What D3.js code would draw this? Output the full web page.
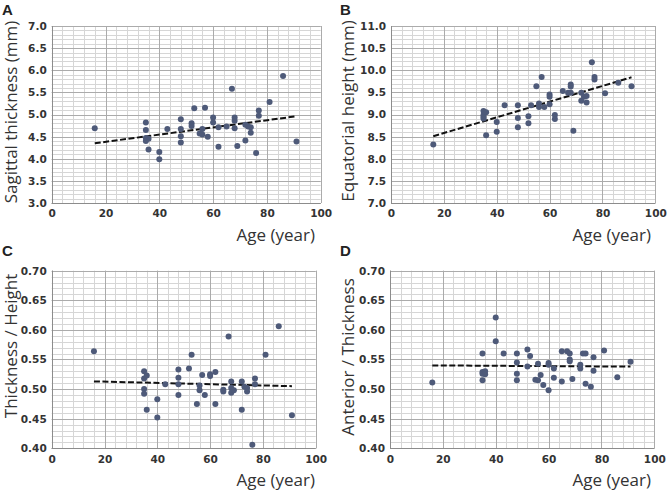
<!DOCTYPE html>
<html><head><meta charset="utf-8">
<script src="https://cdn.jsdelivr.net/npm/d3@7"></script>
<style>body{margin:0;background:#fff} svg{display:block}</style>
</head><body><svg id="c" width="672" height="493"></svg>
<script>
// ---- data ----
const agesA = [16,35,35,35,35,36,36,40,40,43,48,48,48,48,52,52,53,55,56,56,57,58,60,60,62,62,65,67,68,68,68,69,72,72,73,74,74,76,77,77,81,86,91];
const valuesA = [4.69,4.82,4.65,4.47,4.40,4.45,4.21,4.15,3.99,4.67,4.89,4.67,4.51,4.37,4.80,4.74,5.14,4.57,4.67,4.55,5.15,4.50,4.93,4.82,4.71,4.27,4.73,5.58,4.93,4.86,4.69,4.29,4.77,4.41,4.73,4.71,4.59,4.13,5.09,4.97,5.28,5.87,4.39];
const trendA = [[16,4.35],[91,4.96]];

const agesB = [16,35,35,35,35,36,36,40,40,43,48,48,48,52,52,53,55,56,56,57,58,60,60,60,62,62,65,67,68,68,68,69,72,72,73,74,74,76,77,77,81,86,91];
const valuesB = [8.32,9.08,8.99,8.91,8.95,9.05,8.53,8.83,8.61,9.21,9.21,8.92,8.71,8.96,8.80,9.21,9.64,9.25,9.17,9.85,9.17,9.45,9.40,9.23,8.99,8.90,9.53,9.49,9.68,9.63,9.49,8.63,9.49,9.31,9.40,9.42,9.27,10.18,9.85,9.79,9.48,9.72,9.64];
const trendB = [[16,8.51],[91,9.84]];

const agesC = [16,35,35,35,35,36,36,40,40,43,48,48,48,48,52,53,55,56,56,57,58,60,60,62,62,65,65,67,68,68,68,69,72,72,73,74,74,76,77,77,81,86,91];
const valuesC = [0.564,0.530,0.518,0.500,0.492,0.523,0.465,0.483,0.452,0.508,0.533,0.519,0.508,0.490,0.535,0.558,0.475,0.506,0.498,0.524,0.490,0.525,0.522,0.529,0.475,0.499,0.496,0.589,0.513,0.502,0.494,0.498,0.513,0.465,0.504,0.502,0.496,0.406,0.518,0.508,0.558,0.606,0.456];
const trendC = [[16,0.513],[91,0.505]];

const agesD = [16,35,35,35,35,36,36,40,40,43,48,48,48,48,52,52,53,55,56,56,57,58,60,60,60,62,62,65,65,67,68,68,68,69,72,72,73,74,74,76,77,77,81,86,91];
const valuesD = [0.511,0.560,0.529,0.526,0.515,0.530,0.525,0.621,0.581,0.560,0.560,0.545,0.526,0.515,0.567,0.538,0.556,0.516,0.543,0.515,0.524,0.507,0.544,0.541,0.498,0.535,0.519,0.564,0.513,0.564,0.560,0.550,0.547,0.517,0.541,0.535,0.560,0.560,0.509,0.504,0.554,0.531,0.565,0.520,0.546];
const trendD = [[16,0.540],[91,0.538]];

const xTicks = [0,20,40,60,80,100];
const yTicksA = ["3.0","3.5","4.0","4.5","5.0","5.5","6.0","6.5","7.0"];
const yTicksB = ["7.0","7.5","8.0","8.5","9.0","9.5","10.0","10.5","11.0"];
const yTicksCD = ["0.40","0.45","0.50","0.55","0.60","0.65","0.70"];

const panels = [
  {letter:"A", ages:agesA, vals:valuesA, trend:trendA, ylab:"Sagittal thickness (mm)", yt:yTicksA, ydom:[3,7], minor:0.1,
   box:[51.7,320.7,26,203], letterPos:[2,15], ytitle:[10,112], xtitle:[315,241]},
  {letter:"B", ages:agesB, vals:valuesB, trend:trendB, ylab:"Equatorial height (mm)", yt:yTicksB, ydom:[7,11], minor:0.1,
   box:[391,655.3,26,203], letterPos:[340,15], ytitle:[347,111], xtitle:[651,241]},
  {letter:"C", ages:agesC, vals:valuesC, trend:trendC, ylab:"Thickness / Height", yt:yTicksCD, ydom:[0.4,0.7], minor:0.01,
   box:[51.7,315.7,270.7,448.3], letterPos:[2,256], ytitle:[10.5,346], xtitle:[315,486]},
  {letter:"D", ages:agesD, vals:valuesD, trend:trendD, ylab:"Anterior / Thickness", yt:yTicksCD, ydom:[0.4,0.7], minor:0.01,
   box:[390,654.3,270.7,448.3], letterPos:[340,256], ytitle:[347,357], xtitle:[651,486]}
];

const svg = d3.select("#c");
const tickFont = "DejaVu Sans, Verdana, sans-serif";
const titleFont = "'Open Sans', 'Noto Sans', sans-serif";

panels.forEach(p => {
  const [x0,x1,y0,y1] = p.box;
  const x = d3.scaleLinear().domain([0,100]).range([x0,x1]);
  const y = d3.scaleLinear().domain(p.ydom).range([y1,y0]);
  const g = svg.append("g");

  // minor grid
  const nMinorY = Math.round((p.ydom[1]-p.ydom[0])/p.minor);
  const minorY = d3.range(nMinorY+1).map(i => p.ydom[0] + i*p.minor);
  const minorX = d3.range(0,101,4);
  g.append("g").selectAll("line").data(minorY).join("line")
    .attr("x1",x0).attr("x2",x1).attr("y1",d=>Math.round(y(d))+0.5).attr("y2",d=>Math.round(y(d))+0.5)
    .attr("stroke","#d6d6d6").attr("stroke-width",1);
  g.append("g").selectAll("line").data(minorX).join("line")
    .attr("y1",y0).attr("y2",y1).attr("x1",d=>Math.round(x(d))+0.5).attr("x2",d=>Math.round(x(d))+0.5)
    .attr("stroke","#d6d6d6").attr("stroke-width",1);
  // major grid
  const majorY = p.yt.map(Number);
  g.append("g").selectAll("line").data(majorY).join("line")
    .attr("x1",x0).attr("x2",x1).attr("y1",d=>Math.round(y(d))+0.5).attr("y2",d=>Math.round(y(d))+0.5)
    .attr("stroke","#ababab").attr("stroke-width",1);
  g.append("g").selectAll("line").data(xTicks).join("line")
    .attr("y1",y0).attr("y2",y1).attr("x1",d=>Math.round(x(d))+0.5).attr("x2",d=>Math.round(x(d))+0.5)
    .attr("stroke","#ababab").attr("stroke-width",1);
  // axes lines
  g.append("line").attr("x1",Math.round(x0)+0.5).attr("x2",Math.round(x0)+0.5).attr("y1",y0).attr("y2",y1)
    .attr("stroke","#8c8c8c");
  g.append("line").attr("x1",x0).attr("x2",x1).attr("y1",Math.round(y1)+0.5).attr("y2",Math.round(y1)+0.5)
    .attr("stroke","#8c8c8c");

  // axes tick labels via d3 axes
  const ax = g.append("g").attr("transform",`translate(0,${y1})`)
    .call(d3.axisBottom(x).tickValues(xTicks).tickSize(0).tickPadding(7).tickFormat(d3.format("d")));
  ax.select(".domain").remove();
  ax.selectAll("text").attr("font-family",tickFont).attr("font-weight","bold").attr("font-size","10.5px").attr("fill","#333");
  const ay = g.append("g").attr("transform",`translate(${x0},0)`)
    .call(d3.axisLeft(y).tickValues(majorY).tickSize(0).tickPadding(5)
      .tickFormat((d,i)=>p.yt[i]));
  ay.select(".domain").remove();
  ay.selectAll("text").attr("font-family",tickFont).attr("font-weight","bold").attr("font-size","10.5px").attr("fill","#333");

  // trend line
  g.append("path").datum(p.trend)
    .attr("d", d3.line().x(d=>x(d[0])).y(d=>y(d[1])))
    .attr("fill","none").attr("stroke","#111").attr("stroke-width",2).attr("stroke-dasharray","6,2.5");

  // points
  g.append("g").selectAll("circle").data(p.ages.map((a,i)=>[a,p.vals[i]])).join("circle")
    .attr("cx",d=>x(d[0])).attr("cy",d=>y(d[1])).attr("r",3).attr("fill","#4e5a79");

  // titles
  svg.append("text").attr("x",p.xtitle[0]).attr("y",p.xtitle[1]).attr("text-anchor","end")
    .attr("font-family",titleFont).attr("font-size","17px").attr("fill","#333").text("Age (year)");
  svg.append("text").attr("transform",`translate(${p.ytitle[0]},${p.ytitle[1]}) rotate(-90)`)
    .attr("text-anchor","middle").attr("dominant-baseline","central")
    .attr("font-family",titleFont).attr("font-size","17px").attr("fill","#333").text(p.ylab);
  svg.append("text").attr("x",p.letterPos[0]).attr("y",p.letterPos[1])
    .attr("font-family","'Liberation Sans', Arial, sans-serif").attr("font-weight","bold").attr("font-size","15px")
    .attr("fill","#222").text(p.letter);
});
</script>
</body></html>
